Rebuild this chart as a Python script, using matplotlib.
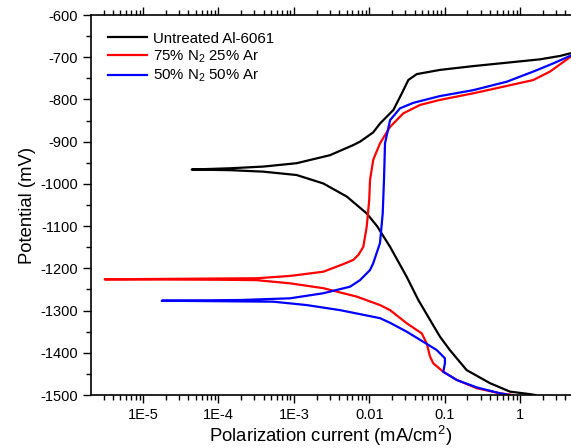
import numpy as np
import matplotlib
matplotlib.use("Agg")
import matplotlib.pyplot as plt
from matplotlib.ticker import FixedLocator, FixedFormatter, LogLocator, NullFormatter, MultipleLocator

plt.rcParams['font.family'] = ['Liberation Sans', 'DejaVu Sans']
plt.rcParams['mathtext.default'] = 'regular'
plt.rcParams['axes.unicode_minus'] = False

# curvas de polarizacion: rama catodica (desde corriente alta hacia Ecorr) + rama anodica
# corriente en mA/cm2, potencial en mV
i_untreated = [1.6, 1.36, 0.736, 0.4, 0.196, 0.118, 0.0869, 0.064, 0.0448, 0.0314, 0.0189, 0.0127, 9.27e-3, 5.04e-3,
               2.46e-3, 1.09e-3, 3.93e-4, 1.43e-4,
               4.42e-5,
               1.43e-4, 3.93e-4, 1.09e-3, 3.02e-3, 6.15e-3, 7.55e-3, 0.0113, 0.0139, 0.0209, 0.027, 0.033, 0.0427,
               0.0869, 0.24, 0.667, 1.84, 3.39, 4.6]
E_untreated = [-1500, -1498, -1492, -1472, -1441, -1394, -1362, -1322, -1275, -1220, -1149, -1100, -1070, -1030,
               -999, -979, -971, -967.5,
               -966,
               -963, -959, -951, -932, -908, -900, -878, -857, -825, -786, -754, -740,
               -730, -721, -713, -705, -697, -691]

i_75n2 = [0.8, 0.736, 0.543, 0.267, 0.1445, 0.096, 0.0708, 0.064, 0.058, 0.0497, 0.0314, 0.0189, 0.0139, 6.83e-3,
          2.46e-3, 8.9e-4, 3.22e-4, 1e-4,
          3.1e-6,
          1.16e-4, 3.22e-4, 8.9e-4, 2.46e-3, 4.53e-3, 6.15e-3, 7.2e-3, 8.35e-3, 9.27e-3, 0.01, 0.01025, 0.0113,
          0.0139, 0.0189, 0.0283, 0.0472, 0.0869, 0.24, 0.667, 1.5, 2.5, 4.6]
E_75n2 = [-1500, -1499, -1496, -1484, -1464, -1445, -1425, -1409, -1378, -1354, -1330, -1299, -1287, -1267,
          -1247, -1235.5, -1228, -1227,
          -1226,
          -1224, -1223.5, -1218, -1208, -1190, -1180, -1168, -1149, -1101, -1038, -991, -943,
          -904, -865, -833, -813, -801, -785.5, -768, -754, -734, -700]

i_50n2 = [0.736, 0.543, 0.267, 0.1445, 0.096, 0.101, 0.101, 0.0785, 0.0522, 0.0314, 0.0189, 0.0139, 4.1e-3,
          1.48e-3, 5.35e-4,
          1.77e-5,
          1.93e-4, 8.9e-4, 2.46e-3, 5.56e-3, 7.55e-3, 0.01025, 0.0113, 0.0139, 0.0151, 0.0157, 0.0162, 0.0189,
          0.0256, 0.0385, 0.0869, 0.24, 0.667, 1.5, 2.77, 4.6]
E_50n2 = [-1500, -1496, -1482, -1464.5, -1445, -1425, -1413, -1393.5, -1374, -1350, -1329, -1318, -1299,
          -1287, -1279,
          -1276.7,
          -1275, -1271, -1259, -1243.5, -1228, -1204, -1188, -1140, -1070, -991, -904, -849,
          -821, -808, -792, -778, -758, -734, -714.5, -697]

xticks = [1e-5, 1e-4, 1e-3, 1e-2, 1e-1, 1]
xtick_labels = ["1E-5", "1E-4", "1E-3", "0.01", "0.1", "1"]

fig = plt.figure(figsize=(5.71, 4.48), dpi=100)
ax = fig.add_axes([0.1594, 0.1183, 0.8406, 0.8482])

ax.plot(i_untreated, E_untreated, color="black", lw=1.6, label="Untreated Al-6061")
ax.plot(i_75n2, E_75n2, color="red", lw=1.6, label="75% N$_2$ 25% Ar")
ax.plot(i_50n2, E_50n2, color="blue", lw=1.6, label="50% N$_2$ 50% Ar")

ax.set_xscale("log")
ax.set_xlim(2.04e-6, 4.75)
ax.set_ylim(-1500, -600)

ax.xaxis.set_major_locator(FixedLocator(xticks))
ax.xaxis.set_major_formatter(FixedFormatter(xtick_labels))
ax.xaxis.set_minor_locator(LogLocator(base=10, subs=np.arange(2, 10), numticks=20))
ax.xaxis.set_minor_formatter(NullFormatter())
ax.yaxis.set_major_locator(MultipleLocator(100))
ax.yaxis.set_minor_locator(MultipleLocator(50))

ax.tick_params(which="major", direction="out", length=6, width=1, labelsize=10.5, top=True, labeltop=False)
ax.tick_params(which="minor", direction="out", length=3.5, width=1, top=True)
ax.spines["right"].set_visible(False)
for s in ["left", "bottom", "top"]:
    ax.spines[s].set_linewidth(1.2)

ax.set_xlabel("Polarization current (mA/cm$^2$)", fontsize=13.3, labelpad=1)
ax.set_ylabel("Potential (mV)", fontsize=13.3, labelpad=3)

ax.legend(loc="upper left", frameon=False, fontsize=10.8, handlelength=2.6, handletextpad=0.4,
          labelspacing=0.2, borderaxespad=0.7)

fig.savefig("out.png", dpi=100)
